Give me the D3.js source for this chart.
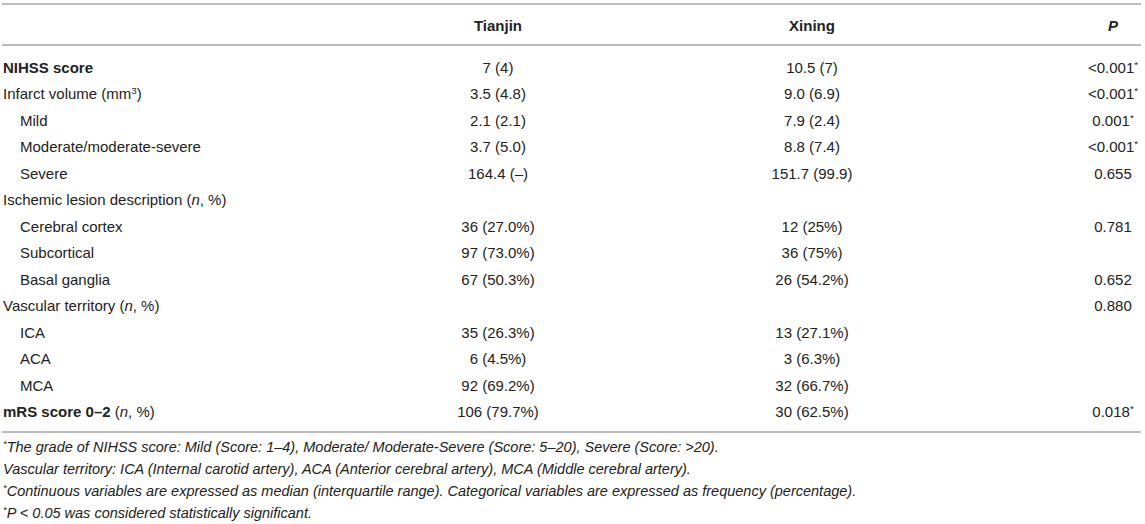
<!DOCTYPE html>
<html>
<head>
<meta charset="utf-8">
<script src="https://cdn.jsdelivr.net/npm/d3@7"></script>
<style>
  body { margin: 0; background: #fff; }
  svg text { font-family: "Liberation Sans", Arial, Helvetica, sans-serif; fill: #222; }
</style>
</head>
<body>
<div id="chart-area"></div>
<script>
// table content: {b:..} bold, {i:..} italic, {bi:..} both, {sup:..} superscript
const columns = ["Tianjin", "Xining", "{bi:P}"];

const rowLabels = [
	"{b:NIHSS score}",
	"Infarct volume (mm{sup:3})",
	"Mild",
	"Moderate/moderate-severe",
	"Severe",
	"Ischemic lesion description ({i:n}, %)",
	"Cerebral cortex",
	"Subcortical",
	"Basal ganglia",
	"Vascular territory ({i:n}, %)",
	"ICA",
	"ACA",
	"MCA",
	"{b:mRS score 0–2} ({i:n}, %)"
];

// 0 = group row, 1 = sub row
const rowLevels = [0, 0, 1, 1, 1, 0, 1, 1, 1, 0, 1, 1, 1, 0];

const tianjin = ["7 (4)", "3.5 (4.8)", "2.1 (2.1)", "3.7 (5.0)", "164.4 (–)", "",
	"36 (27.0%)", "97 (73.0%)", "67 (50.3%)", "", "35 (26.3%)", "6 (4.5%)", "92 (69.2%)", "106 (79.7%)"];

const xining = ["10.5 (7)", "9.0 (6.9)", "7.9 (2.4)", "8.8 (7.4)", "151.7 (99.9)", "",
	"12 (25%)", "36 (75%)", "26 (54.2%)", "", "13 (27.1%)", "3 (6.3%)", "32 (66.7%)", "30 (62.5%)"];

const pValues = ["<0.001{sup:*}", "<0.001{sup:*}", "0.001{sup:*}", "<0.001{sup:*}", "0.655", "",
	"0.781", "", "0.652", "0.880", "", "", "", "0.018{sup:*}"];

const footnotes = [
	"{sup:*}The grade of NIHSS score: Mild (Score: 1–4), Moderate/ Moderate-Severe (Score: 5–20), Severe (Score: >20).",
	"Vascular territory: ICA (Internal carotid artery), ACA (Anterior cerebral artery), MCA (Middle cerebral artery).",
	"{sup:*}Continuous variables are expressed as median (interquartile range). Categorical variables are expressed as frequency (percentage).",
	"{sup:*}P < 0.05 was considered statistically significant."
];

const width = 1145;
const height = 524;
const left = 3;
const right = 1141;

const svg = d3.select('#chart-area')
			.append('svg')
			.attr('width', width)
			.attr('height', height);

const x = d3.scaleOrdinal()
			.domain(columns)
			.range([498, 812, 1113]);

const y = d3.scalePoint()
			.domain(d3.range(rowLabels.length))
			.range([67.5, 412]);

const yNote = d3.scalePoint()
			.domain(d3.range(footnotes.length))
			.range([447, 513]);

function rich(sel, str){
	const re = /\{(b|i|bi|sup):([^}]*)\}/g;
	let last = 0, m;
	while ((m = re.exec(str)) !== null){
		if (m.index > last) sel.append('tspan').text(str.slice(last, m.index));
		const t = sel.append('tspan').text(m[2]);
		if (m[1] === 'b' || m[1] === 'bi') t.attr('font-weight', 'bold');
		if (m[1] === 'i' || m[1] === 'bi') t.attr('font-style', 'italic');
		if (m[1] === 'sup') t.attr('baseline-shift', 'super').attr('font-size', '0.65em');
		last = re.lastIndex;
	}
	if (last < str.length) sel.append('tspan').text(str.slice(last));
}

// rules
const rules = [4, 45, 432];
svg.selectAll('line.rule')
	.data(rules)
	.enter()
	.append('line')
	.attr('class', 'rule')
	.attr('x1', left - 1)
	.attr('x2', right)
	.attr('y1', d => d)
	.attr('y2', d => d)
	.attr('stroke', '#a6a6a6')
	.attr('stroke-width', 1.4);

// header
svg.selectAll('text.head')
	.data(columns)
	.enter()
	.append('text')
	.attr('class', 'head')
	.attr('x', d => x(d))
	.attr('y', 26)
	.attr('dy', '0.35em')
	.attr('text-anchor', 'middle')
	.attr('font-size', '15px')
	.attr('font-weight', 'bold')
	.each(function(d){ rich(d3.select(this), d); });

// row labels
svg.selectAll('text.label')
	.data(rowLabels)
	.enter()
	.append('text')
	.attr('class', 'label')
	.attr('x', (d, i) => left + rowLevels[i] * 17)
	.attr('y', (d, i) => y(i))
	.attr('dy', '0.35em')
	.attr('font-size', '15px')
	.each(function(d){ rich(d3.select(this), d); });

// value cells
const cells = [];
[tianjin, xining, pValues].forEach((col, c) => {
	col.forEach((v, i) => { if (v) cells.push({col: columns[c], row: i, value: v}); });
});

svg.selectAll('text.cell')
	.data(cells)
	.enter()
	.append('text')
	.attr('class', 'cell')
	.attr('x', d => x(d.col))
	.attr('y', d => y(d.row))
	.attr('dy', '0.35em')
	.attr('text-anchor', 'middle')
	.attr('font-size', '15px')
	.each(function(d){ rich(d3.select(this), d.value); });

// footnotes
svg.selectAll('text.note')
	.data(footnotes)
	.enter()
	.append('text')
	.attr('class', 'note')
	.attr('x', left)
	.attr('y', (d, i) => yNote(i))
	.attr('dy', '0.35em')
	.attr('font-size', '14.5px')
	.attr('font-style', 'italic')
	.each(function(d){ rich(d3.select(this), d); });
</script>
</body>
</html>
